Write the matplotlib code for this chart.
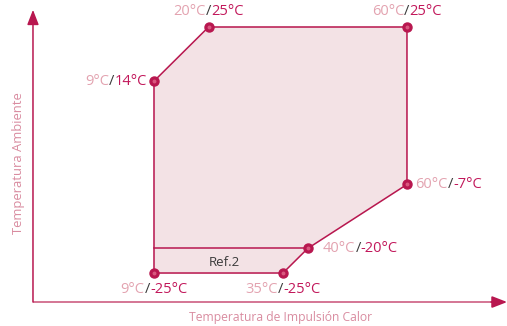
import matplotlib
matplotlib.use("Agg")
import matplotlib.pyplot as plt
from matplotlib.offsetbox import TextArea, HPacker, AnnotationBbox

plt.rcParams['font.family'] = ['Open Sans', 'DejaVu Sans']

# Operating envelope: (supply temperature, ambient temperature)
supply_temp = [9, 20, 60, 60, 40, 35, 9]
ambient_temp = [14, 25, 25, -7, -20, -25, -25]
point_labels = [("9°C", "14°C"), ("20°C", "25°C"), ("60°C", "25°C"),
                ("60°C", "-7°C"), ("40°C", "-20°C"), ("35°C", "-25°C"),
                ("9°C", "-25°C")]

# Ref.2 boundary
ref_x = [9, 40]
ref_y = [-20, -20]
ref_label = "Ref.2"

xlabel = "Temperatura de Impulsión Calor"
ylabel = "Temperatura Ambiente"

LINE = "#b8174f"
FILL = "#f3e2e5"
LIGHT = "#e3a3b0"
DARK = "#c2185b"
GREY = "#3a3a3a"
AXIS_TXT = "#d98ca0"

fig = plt.figure(figsize=(5.07, 3.26), dpi=100)
ax = fig.add_axes([0, 0, 1, 1])
ax.set_xlim(-22.05, 80.17)
ax.set_ylim(-35.77, 30.49)
ax.axis("off")

ax.fill(supply_temp, ambient_temp, color=FILL, zorder=1)
ax.plot(supply_temp + [supply_temp[0]], ambient_temp + [ambient_temp[0]],
        color=LINE, lw=1.1, zorder=2)
ax.plot(ref_x, ref_y, color=LINE, lw=1.1, zorder=2)
ax.plot(supply_temp, ambient_temp, 'o', ms=6.5, color=LINE, zorder=3)
ax.plot(supply_temp, ambient_temp, 'o', ms=1.8, color="#d9587f", zorder=4)

ax.text(23.1, -22.9, ref_label, color=GREY, fontsize=9.5, ha="center", va="center")

# Axes with arrow heads
x0, y0 = -15.4, -30.9
ax.plot([x0, 78.5], [y0, y0], color="#d47594", lw=1.4, solid_capstyle="butt")
ax.annotate("", xy=(80.2, y0), xytext=(77.0, y0), annotation_clip=False,
            arrowprops=dict(arrowstyle="-|>,head_length=0.9,head_width=0.35",
                            color=LINE, lw=1.3, shrinkA=0, shrinkB=0))
ax.annotate("", xy=(x0, 28.5), xytext=(x0, y0), annotation_clip=False,
            arrowprops=dict(arrowstyle="-|>,head_length=0.9,head_width=0.35",
                            color=LINE, lw=1.1, shrinkA=0, shrinkB=0))

ax.text(34.5, -34.0, xlabel, color=AXIS_TXT, fontsize=8.7, ha="center", va="center")
ax.text(-18.4, -2.6, ylabel, color=AXIS_TXT, fontsize=9.4, ha="center",
        va="center", rotation=90)

def label(a, b, xy, offset, box_align):
    parts = [TextArea(a, textprops=dict(color=LIGHT, fontsize=10.5)),
             TextArea("/", textprops=dict(color=GREY, fontsize=10.5)),
             TextArea(b, textprops=dict(color=DARK, fontsize=10.5))]
    pack = HPacker(children=parts, pad=0, sep=0, align="baseline")
    ab = AnnotationBbox(pack, xy, xybox=offset, xycoords="data",
                        boxcoords="offset points", box_alignment=box_align,
                        frameon=False, pad=0, annotation_clip=False)
    ax.add_artist(ab)

offsets = [((-5, 0), (1, 0.5)),
           ((0, 11), (0.5, 0.5)),
           ((0, 11), (0.5, 0.5)),
           ((6, 0), (0, 0.5)),
           ((11, 0), (0, 0.5)),
           ((0, -12), (0.5, 0.5)),
           ((0, -12), (0.5, 0.5))]
for (a, b), x, y, (off, al) in zip(point_labels, supply_temp, ambient_temp, offsets):
    label(a, b, (x, y), off, al)

fig.savefig("out.png", dpi=100)
